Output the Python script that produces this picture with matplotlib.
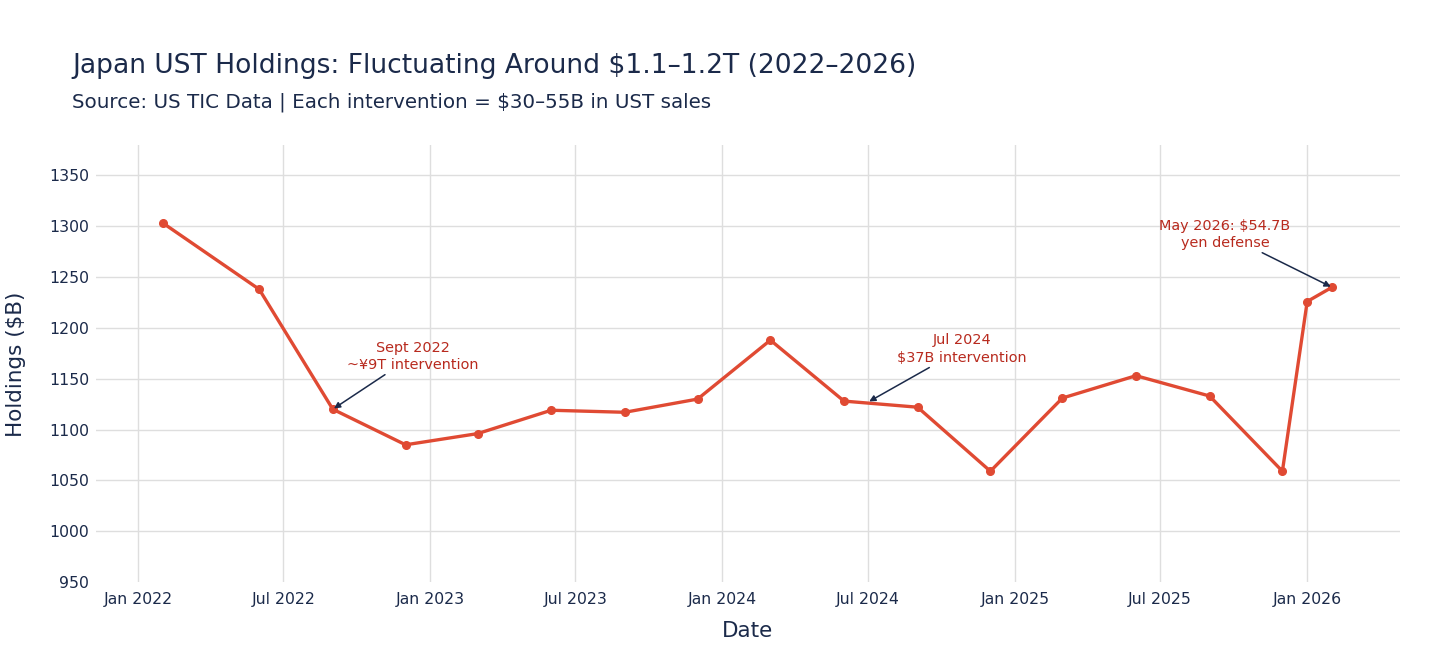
import matplotlib
matplotlib.use('Agg')
import matplotlib.pyplot as plt
import matplotlib.dates as mdates
import pandas as pd

# Data
dates = pd.to_datetime([
    '2022-02-01', '2022-06-01', '2022-09-01', '2022-12-01',
    '2023-03-01', '2023-06-01', '2023-09-01', '2023-12-01',
    '2024-03-01', '2024-06-01', '2024-09-01', '2024-12-01',
    '2025-03-01', '2025-06-01', '2025-09-01', '2025-12-01',
    '2026-01-01', '2026-02-01',
])
holdings = [1303, 1238, 1120, 1085, 1096, 1119, 1117, 1130, 1188,
            1128, 1122, 1059, 1131, 1153, 1133, 1059, 1226, 1240]

notes = [
    ('2022-09-01', 1120, 'Sept 2022\n~¥9T intervention', (80, 53)),
    ('2024-07-01', 1127, 'Jul 2024\n$37B intervention', (94, 53)),
    ('2026-02-01', 1240, 'May 2026: $54.7B\nyen defense', (-107, 53)),
]

title = 'Japan UST Holdings: Fluctuating Around $1.1–1.2T (2022–2026)'
subtitle = 'Source: US TIC Data | Each intervention = $30–55B in UST sales'

NAVY = '#1B2A4A'
LINE_RED = '#E04A33'
NOTE_RED = '#B82A1E'
GRID = '#DEDEDE'

W, H = 1456, 662
fig = plt.figure(figsize=(W / 100, H / 100), dpi=100)
ax = fig.add_axes([96 / W, 1 - 582 / H, (1400 - 96) / W, (582 - 145) / H])

ax.plot(dates, holdings, '-o', color=LINE_RED, linewidth=2.4,
        markersize=5.5, zorder=3)

for d, v, txt, off in notes:
    ax.annotate(txt, xy=(pd.Timestamp(d), v), xytext=off,
                textcoords='offset pixels', ha='center', va='center',
                fontsize=10.4, color=NOTE_RED, linespacing=1.3,
                arrowprops=dict(arrowstyle='-|>', color=NAVY, lw=1.1,
                                mutation_scale=9, shrinkA=0, shrinkB=1))

ax.set_xlim(pd.Timestamp('2021-11-09'), pd.Timestamp('2026-04-27'))
ax.set_ylim(950, 1380)
ax.set_yticks(range(950, 1351, 50))
ax.xaxis.set_major_locator(mdates.MonthLocator(bymonth=[1, 7]))
ax.xaxis.set_major_formatter(mdates.DateFormatter('%b %Y'))

ax.grid(True, color=GRID, linewidth=1)
ax.set_axisbelow(True)
for s in ax.spines.values():
    s.set_visible(False)
ax.tick_params(length=0, labelsize=11.3, colors=NAVY)
ax.tick_params(axis='y', pad=5)
ax.tick_params(axis='x', pad=7)
# no gridline on the bottom edge (950)
ax.get_ygridlines()[0].set_visible(False)

fig.text(72 / W, 1 - 73 / H, title, fontsize=19.1, color=NAVY, va='baseline')
fig.text(72 / W, 1 - 107 / H, subtitle, fontsize=14.3, color=NAVY, va='baseline')
fig.text(748 / W, 1 - 631 / H, 'Date', fontsize=15.5, color=NAVY,
         ha='center', va='center')
fig.text(16 / W, 1 - 364 / H, 'Holdings ($B)', fontsize=15.5, color=NAVY,
         ha='center', va='center', rotation=90)

fig.savefig('out.png', dpi=100)
